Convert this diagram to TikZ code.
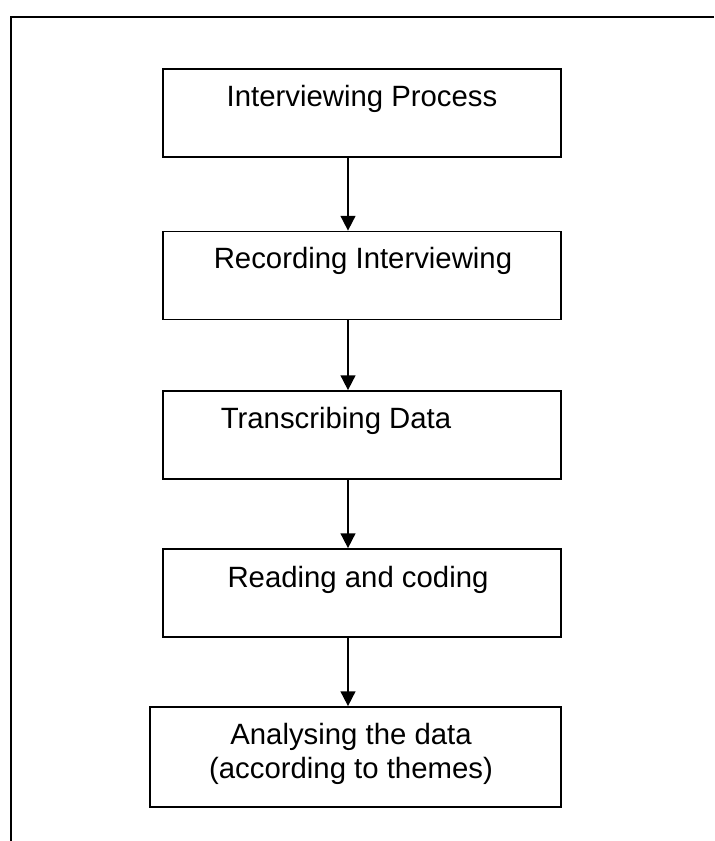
\documentclass[tikz,border=0pt]{standalone}
\usepackage{fontspec}
\setmainfont{Liberation Sans}
\usetikzlibrary{arrows.meta}
\begin{document}
\begin{tikzpicture}[x=0.75pt,y=-0.75pt,
  stage/.style={draw,line width=1.3pt,minimum width=298.5pt,minimum height=66pt,inner sep=0},
  lbl/.style={anchor=base,inner sep=0,font=\fontsize{22}{25}\selectfont},
  flow/.style={line width=1.3pt,-{Triangle[length=11pt,width=11pt]}}]
\useasboundingbox (0,0) rectangle (714,841);
\draw[line width=1.3pt] (714,17) -- (11,17) -- (11,841);

\node[stage] (b1) at (362,113) {};
\node[stage] (b2) at (362,275.5) {};
\node[stage] (b3) at (362,435) {};
\node[stage] (b4) at (362,593) {};
\node[stage,minimum width=308.25pt,minimum height=75pt] (b5) at (355.5,757) {};

\node[lbl] (t1) at (362,107) {Interviewing Process};
\node[lbl] (t2) at (363,269) {Recording Interviewing};
\node[lbl] (t3) at (336,428) {Transcribing Data};
\node[lbl] (t4) at (358,587) {Reading and coding};
\node[lbl,align=center] (t5) at (351,778) {Analysing the data\\(according to themes)};

\draw[flow] ([xshift=-10.5pt]b1.south) -- ([xshift=-10.5pt]b2.north);
\draw[flow] ([xshift=-10.5pt]b2.south) -- ([xshift=-10.5pt]b3.north);
\draw[flow] ([xshift=-10.5pt]b3.south) -- ([xshift=-10.5pt]b4.north);
\draw[flow] ([xshift=-10.5pt]b4.south) -- ([xshift=-5.625pt]b5.north);
\end{tikzpicture}
\end{document}
